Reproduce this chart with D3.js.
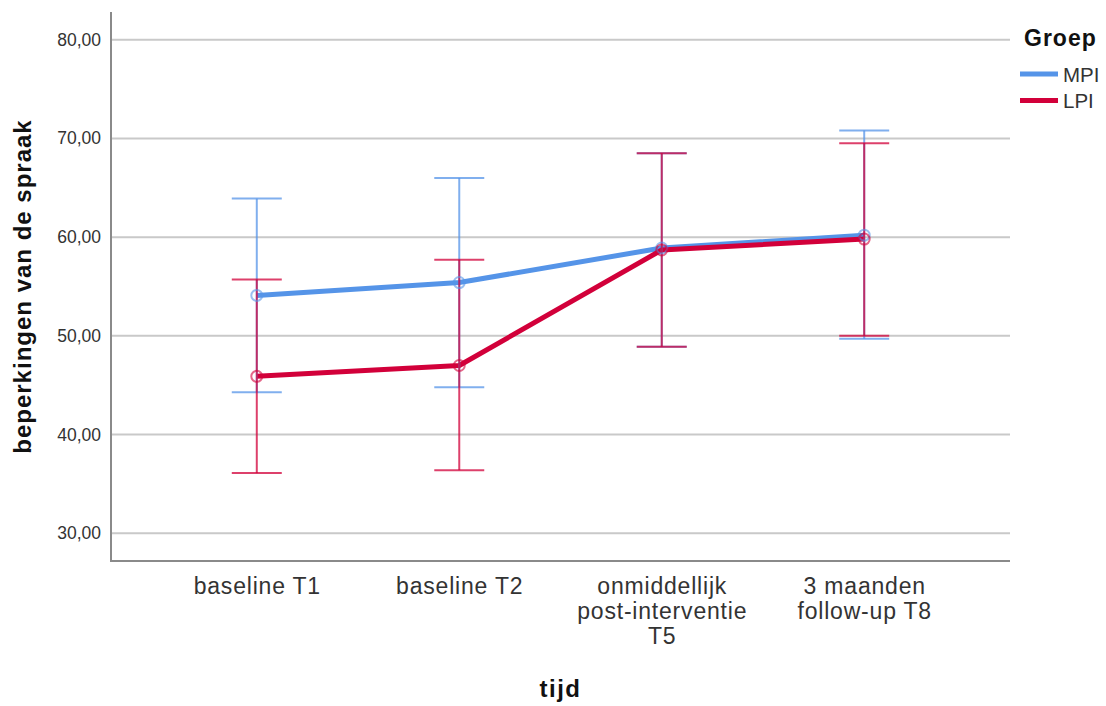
<!DOCTYPE html>
<html>
<head>
<meta charset="utf-8">
<script src="https://cdn.jsdelivr.net/npm/d3@7"></script>
<style>
    html, body { margin: 0; padding: 0; background: #fff; }
    svg { display: block; font-family: "Liberation Sans", Arial, sans-serif; }
</style>
</head>
<body>
<div id="chart"></div>
<script>
// categories on the x axis (time points) and their label lines
const categories = ["baseline T1", "baseline T2", "onmiddellijk post-interventie T5", "3 maanden follow-up T8"];
const tickLines = [["baseline T1"], ["baseline T2"], ["onmiddellijk", "post-interventie", "T5"], ["3 maanden", "follow-up T8"]];

// y tick values
const yTicks = [30, 40, 50, 60, 70, 80];

// group MPI: mean and error bar limits
const mpiMean = [54.1, 55.4, 58.9, 60.2];
const mpiLow = [44.3, 44.8, 48.9, 49.7];
const mpiHigh = [63.9, 66.0, 68.5, 70.8];

// group LPI: mean and error bar limits
const lpiMean = [45.9, 47.0, 58.7, 59.8];
const lpiLow = [36.1, 36.4, 48.9, 50.0];
const lpiHigh = [55.7, 57.7, 68.5, 69.5];

const groups = [
    { name: "MPI", color: "#5594e8", mean: mpiMean, low: mpiLow, high: mpiHigh },
    { name: "LPI", color: "#d2003a", mean: lpiMean, low: lpiLow, high: lpiHigh }
];

const width = 1106, height = 706;
const plot = { left: 111, right: 1010, top: 12, bottom: 561 };

const svg = d3.select("#chart").append("svg")
    .attr("width", width)
    .attr("height", height);

const x = d3.scalePoint()
    .domain(categories)
    .range([plot.left, plot.right])
    .padding(0.72);

const y = d3.scaleLinear()
    .domain([27.2, 82.8])
    .range([plot.bottom, plot.top]);

// gridlines
svg.append("g")
    .selectAll("line")
    .data(yTicks)
    .enter()
    .append("line")
    .attr("x1", plot.left)
    .attr("x2", plot.right)
    .attr("y1", d => y(d))
    .attr("y2", d => y(d))
    .attr("stroke", "#c9c9c9")
    .attr("stroke-width", 2);

// y axis
const yAxis = d3.axisLeft(y).tickValues(yTicks).tickSize(0).tickPadding(10)
    .tickFormat(d => d3.format(".2f")(d).replace(".", ","));
const gy = svg.append("g")
    .attr("transform", `translate(${plot.left},0)`)
    .call(yAxis);
gy.select(".domain").remove();
gy.selectAll("text")
    .attr("font-size", "17.5px")
    .attr("fill", "#333")
    .attr("font-family", "'Liberation Sans', Arial, sans-serif");

// x axis
const xAxis = d3.axisBottom(x).tickSize(0).tickFormat("");
const gx = svg.append("g")
    .attr("transform", `translate(0,${plot.bottom})`)
    .call(xAxis);
gx.select(".domain").remove();
gx.selectAll(".tick").each(function (d, i) {
    const t = d3.select(this).append("text")
        .attr("text-anchor", "middle")
        .attr("fill", "#333")
        .attr("font-size", "23px")
        .attr("letter-spacing", "0.8px")
        .attr("font-family", "'Liberation Sans', Arial, sans-serif");
    tickLines[i].forEach((line, j) => {
        t.append("tspan")
            .attr("x", 0)
            .attr("y", 33 + j * 25)
            .text(line);
    });
});

// axis lines
svg.append("line")
    .attr("x1", plot.left).attr("x2", plot.left)
    .attr("y1", plot.top).attr("y2", plot.bottom + 1)
    .attr("stroke", "#8a8a8a").attr("stroke-width", 2);
svg.append("line")
    .attr("x1", plot.left - 1).attr("x2", plot.right)
    .attr("y1", plot.bottom).attr("y2", plot.bottom)
    .attr("stroke", "#8a8a8a").attr("stroke-width", 2);

// axis titles
svg.append("text")
    .attr("transform", `translate(31,${(plot.top + plot.bottom) / 2}) rotate(-90)`)
    .attr("text-anchor", "middle")
    .attr("font-size", "24px")
    .attr("font-weight", "bold")
    .attr("letter-spacing", "1px")
    .attr("fill", "#111")
    .text("beperkingen van de spraak");

svg.append("text")
    .attr("x", (plot.left + plot.right) / 2)
    .attr("y", 697)
    .attr("text-anchor", "middle")
    .attr("font-size", "24px")
    .attr("font-weight", "bold")
    .attr("letter-spacing", "1.5px")
    .attr("fill", "#111")
    .text("tijd");

// mean lines
const line = d3.line()
    .x((d, i) => x(categories[i]))
    .y(d => y(d));

groups.forEach(g => {
    svg.append("path")
        .datum(g.mean)
        .attr("fill", "none")
        .attr("stroke", g.color)
        .attr("stroke-width", 5)
        .attr("stroke-linejoin", "round")
        .attr("d", line);
});

// error bars
const capHalf = 25;
groups.forEach(g => {
    const eb = svg.append("g")
        .attr("stroke", g.color)
        .attr("stroke-width", 2)
        .attr("stroke-opacity", 0.75);
    categories.forEach((c, i) => {
        const cx = x(c);
        eb.append("line")
            .attr("x1", cx).attr("x2", cx)
            .attr("y1", y(g.low[i])).attr("y2", y(g.high[i]));
        eb.append("line")
            .attr("x1", cx - capHalf).attr("x2", cx + capHalf)
            .attr("y1", y(g.high[i])).attr("y2", y(g.high[i]));
        eb.append("line")
            .attr("x1", cx - capHalf).attr("x2", cx + capHalf)
            .attr("y1", y(g.low[i])).attr("y2", y(g.low[i]));
    });
});

// markers
groups.forEach(g => {
    svg.append("g")
        .selectAll("circle")
        .data(g.mean)
        .enter()
        .append("circle")
        .attr("cx", (d, i) => x(categories[i]))
        .attr("cy", d => y(d))
        .attr("r", 5.5)
        .attr("fill", "none")
        .attr("stroke", g.color)
        .attr("stroke-width", 2)
        .attr("stroke-opacity", 0.6);
});

// legend
const legend = svg.append("g").attr("transform", "translate(1020,0)");
legend.append("text")
    .attr("x", 4)
    .attr("y", 46)
    .attr("font-size", "23px")
    .attr("font-weight", "bold")
    .attr("letter-spacing", "1px")
    .attr("fill", "#111")
    .text("Groep");
groups.forEach((g, i) => {
    const ly = 74 + i * 26.5;
    legend.append("line")
        .attr("x1", 0).attr("x2", 38)
        .attr("y1", ly).attr("y2", ly)
        .attr("stroke", g.color)
        .attr("stroke-width", 5);
    legend.append("text")
        .attr("x", 43)
        .attr("y", ly + 7.5)
        .attr("font-size", "20.5px")
        .attr("fill", "#333")
        .text(g.name);
});
</script>
</body>
</html>
